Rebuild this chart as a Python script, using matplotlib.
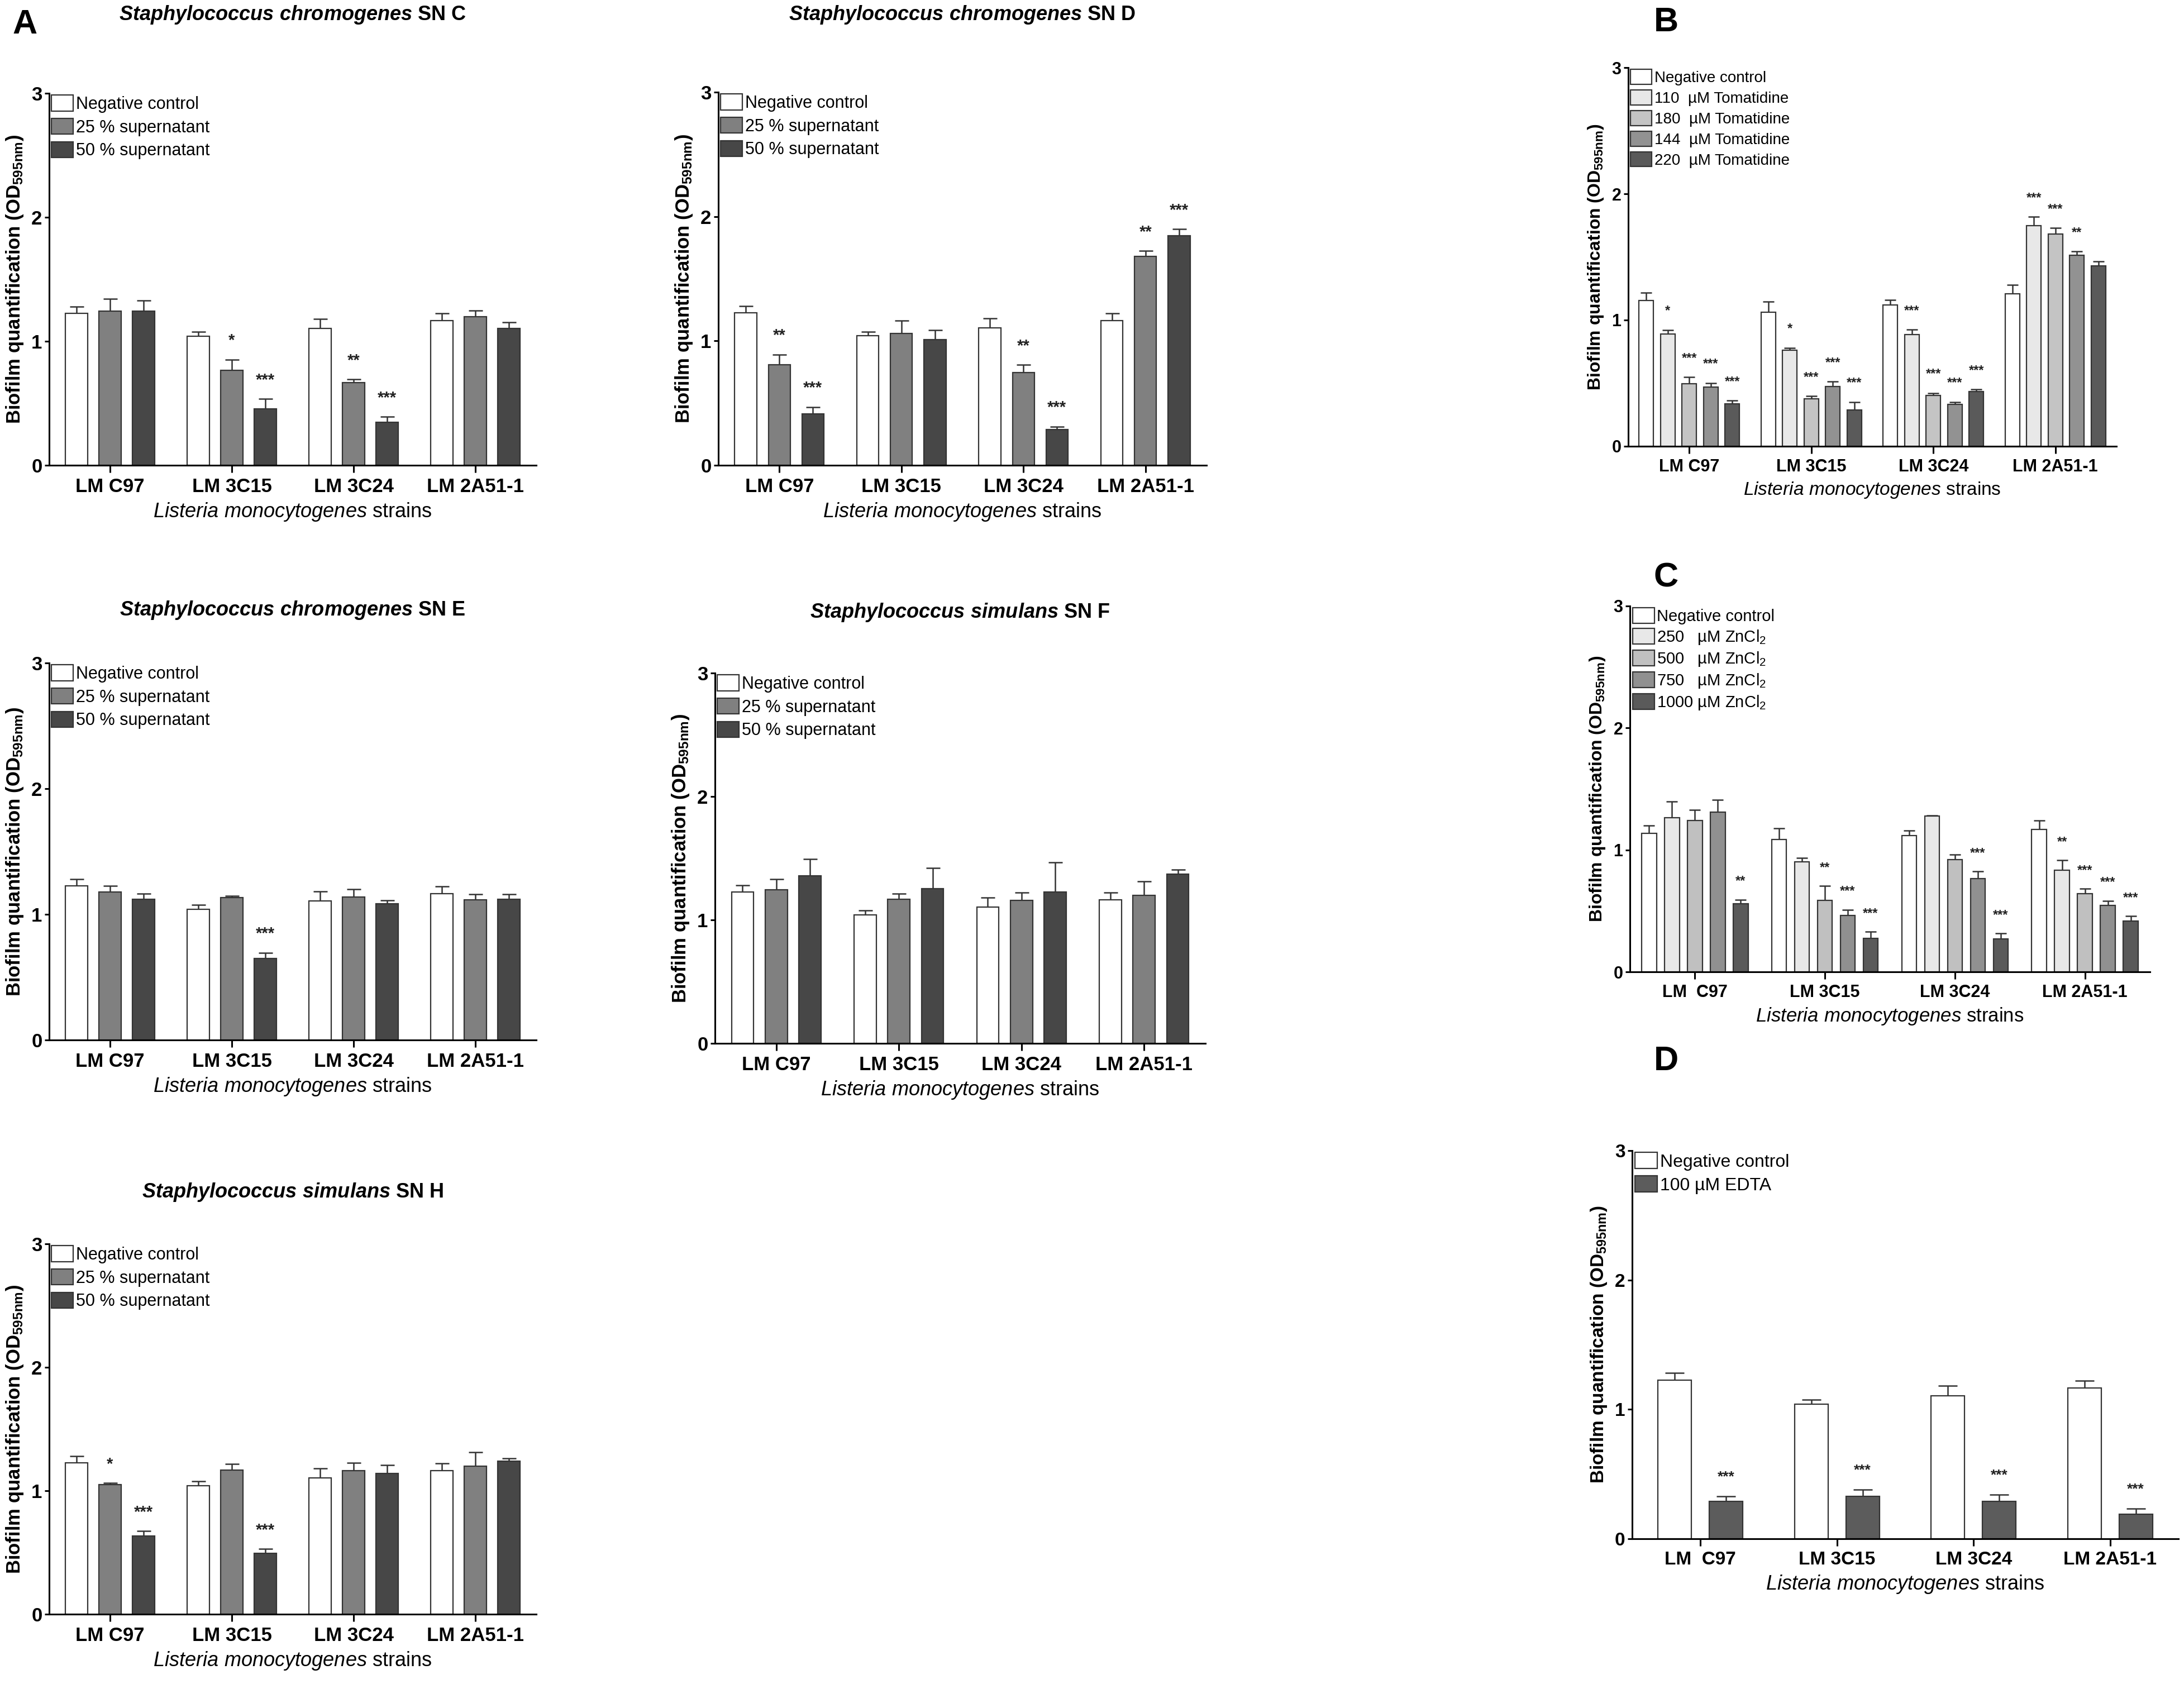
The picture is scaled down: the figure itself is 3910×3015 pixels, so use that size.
import numpy as np
import matplotlib.pyplot as plt

plt.rcParams['font.family'] = ['Liberation Sans', 'DejaVu Sans']
plt.rcParams['mathtext.fontset'] = 'custom'
plt.rcParams['mathtext.rm'] = 'Liberation Sans'
plt.rcParams['mathtext.bf'] = 'Liberation Sans:bold'
plt.rcParams['mathtext.it'] = 'Liberation Sans:italic:bold'
plt.rcParams['mathtext.sf'] = 'Liberation Sans:italic'

W, H = 3910, 3015

strains = ["LM C97", "LM 3C15", "LM 3C24", "LM 2A51-1"]
strains_sp = ["LM  C97", "LM 3C15", "LM 3C24", "LM 2A51-1"]

# negative control (same wells in all supernatant panels and EDTA)
neg_ctrl = [1.225, 1.04, 1.105, 1.165]
neg_ctrl_err = [0.056, 0.035, 0.077, 0.058]

sn_labels = ["Negative control", "25 % supernatant", "50 % supernatant"]
sn_colors = ["#ffffff", "#808080", "#474747"]

# SN C
snc_25 = [1.243, 0.768, 0.667, 1.198]
snc_25_err = [0.10, 0.085, 0.025, 0.05]
snc_50 = [1.243, 0.455, 0.345, 1.102]
snc_50_err = [0.085, 0.08, 0.045, 0.05]
snc_25_stars = ["", "*", "**", ""]
snc_50_stars = ["", "***", "***", ""]

# SN D
snd_25 = [0.807, 1.06, 0.745, 1.681]
snd_25_err = [0.084, 0.104, 0.062, 0.042]
snd_50 = [0.413, 1.009, 0.287, 1.844]
snd_50_err = [0.056, 0.076, 0.025, 0.056]
snd_25_stars = ["**", "", "**", "**"]
snd_50_stars = ["***", "", "***", "***"]

# SN E
sne_25 = [1.18, 1.133, 1.139, 1.114]
sne_25_err = [0.047, 0.014, 0.06, 0.044]
sne_50 = [1.122, 0.651, 1.086, 1.119]
sne_50_err = [0.044, 0.044, 0.025, 0.042]
sne_25_stars = ["", "", "", ""]
sne_50_stars = ["", "***", "", ""]

# SN F
snf_25 = [1.245, 1.168, 1.159, 1.198]
snf_25_err = [0.087, 0.044, 0.064, 0.115]
snf_50 = [1.357, 1.253, 1.228, 1.371]
snf_50_err = [0.135, 0.167, 0.236, 0.036]
snf_25_stars = ["", "", "", ""]
snf_50_stars = ["", "", "", ""]

# SN H
snh_25 = [1.048, 1.169, 1.163, 1.201]
snh_25_err = [0.016, 0.046, 0.062, 0.111]
snh_50 = [0.633, 0.493, 1.142, 1.239]
snh_50_err = [0.043, 0.038, 0.065, 0.024]
snh_25_stars = ["*", "", "", ""]
snh_50_stars = ["***", "***", "", ""]

# B: tomatidine
tom_labels = ["Negative control", "110  \u00b5M Tomatidine", "180  \u00b5M Tomatidine",
              "144  \u00b5M Tomatidine", "220  \u00b5M Tomatidine"]
tom_colors = ["#ffffff", "#e8e8e8", "#c4c4c4", "#929292", "#5a5a5a"]
tom_neg = [1.155, 1.06, 1.119, 1.207]
tom_neg_err = [0.061, 0.086, 0.041, 0.072]
tom_110 = [0.888, 0.76, 0.883, 1.749]
tom_110_err = [0.033, 0.02, 0.041, 0.069]
tom_180 = [0.497, 0.375, 0.402, 1.682]
tom_180_err = [0.05, 0.022, 0.02, 0.047]
tom_144 = [0.469, 0.472, 0.333, 1.513]
tom_144_err = [0.033, 0.041, 0.017, 0.03]
tom_220 = [0.336, 0.286, 0.433, 1.427]
tom_220_err = [0.025, 0.064, 0.017, 0.038]
tom_110_stars = ["*", "*", "***", "***"]
tom_180_stars = ["***", "***", "***", "***"]
tom_144_stars = ["***", "***", "***", "**"]
tom_220_stars = ["***", "***", "***", ""]

# C: ZnCl2
zn_labels = ["Negative control", "250   \u00b5M ZnCl$_2$", "500   \u00b5M ZnCl$_2$",
             "750   \u00b5M ZnCl$_2$", "1000 \u00b5M ZnCl$_2$"]
zn_colors = ["#ffffff", "#e8e8e8", "#c0c0c0", "#909090", "#5a5a5a"]
zn_neg = [1.138, 1.085, 1.116, 1.169]
zn_neg_err = [0.062, 0.092, 0.042, 0.07]
zn_250 = [1.262, 0.903, 1.276, 0.833]
zn_250_err = [0.137, 0.033, 0.005, 0.081]
zn_500 = [1.242, 0.586, 0.92, 0.642]
zn_500_err = [0.087, 0.12, 0.044, 0.039]
zn_750 = [1.312, 0.463, 0.763, 0.547]
zn_750_err = [0.098, 0.047, 0.061, 0.036]
zn_1000 = [0.561, 0.275, 0.269, 0.418]
zn_1000_err = [0.031, 0.053, 0.048, 0.039]
zn_250_stars = ["", "", "", "**"]
zn_500_stars = ["", "**", "", "***"]
zn_750_stars = ["", "***", "***", "***"]
zn_1000_stars = ["**", "***", "***", "***"]

# D: EDTA
edta_labels = ["Negative control", "100 \u00b5M EDTA"]
edta_colors = ["#ffffff", "#5c5c5c"]
edta_100 = [0.29, 0.326, 0.29, 0.188]
edta_100_err = [0.036, 0.053, 0.05, 0.044]
edta_stars = ["***", "***", "***", "***"]

nostar = ["", "", "", ""]

fig = plt.figure(figsize=(W / 100, H / 100), dpi=100)


def panel(px, vals, errs, stars, colors, labels, ticklabels, width, spacing,
          capsize, leg, tick_fs, ylab_fs, xlab_fs, star_fs):
    left, right, top, bottom = px
    ax = fig.add_axes([left / W, 1 - bottom / H, (right - left) / W, (bottom - top) / H])
    x = np.arange(len(ticklabels))
    n = len(vals)
    for i in range(n):
        xi = x + (i - (n - 1) / 2) * spacing
        ax.bar(xi, vals[i], width=width, color=colors[i], edgecolor="#333333",
               linewidth=1.6, label=labels[i], zorder=2)
        ax.errorbar(xi, vals[i], yerr=[np.zeros(len(x)), errs[i]], fmt="none",
                    ecolor="#333333", elinewidth=1.8, capsize=capsize,
                    capthick=1.8, zorder=1)
        for xx, v, e, s in zip(xi, vals[i], errs[i], stars[i]):
            if s:
                ax.text(xx, v + e + 0.15, s, ha="center", va="center",
                        fontsize=star_fs, fontweight="bold", color="#222222")
    ax.set_xlim(-0.5, len(x) - 0.5)
    ax.set_ylim(0, 3)
    ax.set_yticks([0, 1, 2, 3])
    ax.set_xticks(x)
    ax.set_xticklabels(ticklabels, fontsize=tick_fs, fontweight="bold")
    for t in ax.get_yticklabels():
        t.set_fontsize(tick_fs)
        t.set_fontweight("bold")
    ax.spines["top"].set_visible(False)
    ax.spines["right"].set_visible(False)
    ax.spines["left"].set_linewidth(2.2)
    ax.spines["bottom"].set_linewidth(2.2)
    ax.tick_params(axis="x", length=9, width=2.2, pad=7)
    ax.tick_params(axis="y", length=6, width=2.2, pad=3)
    ax.set_ylabel("Biofilm quantification (OD$_{\\mathbf{595nm}}$)",
                  fontsize=ylab_fs, fontweight="bold", labelpad=8)
    ax.set_xlabel("$\\mathsf{Listeria\\ monocytogenes}$ strains",
                  fontsize=xlab_fs, labelpad=6)
    fs, hl, hh, ls = leg
    ax.legend(loc="upper left", bbox_to_anchor=(0.005, 0.995), frameon=False,
              fontsize=fs, handlelength=hl, handleheight=hh,
              handletextpad=0.15, labelspacing=ls, borderaxespad=0,
              borderpad=0)
    return ax


def title(cx, cy, species, sn):
    fig.text(cx / W, 1 - cy / H,
             "$\\mathit{Staphylococcus\\ " + species + "}$ " + sn,
             ha="center", va="center", fontsize=26, fontweight="bold")


sn_kw = dict(colors=sn_colors, labels=sn_labels, ticklabels=strains,
             width=0.18, spacing=0.275, capsize=9, leg=(22, 1.27, 1.05, 0.33),
             tick_fs=25, ylab_fs=25, xlab_fs=26, star_fs=21)

panel((88, 960, 167, 833), [neg_ctrl, snc_25, snc_50],
      [neg_ctrl_err, snc_25_err, snc_50_err], [nostar, snc_25_stars, snc_50_stars], **sn_kw)
title(524, 27, "chromogenes", "SN C")

panel((1286, 2160, 165, 833), [neg_ctrl, snd_25, snd_50],
      [neg_ctrl_err, snd_25_err, snd_50_err], [nostar, snd_25_stars, snd_50_stars], **sn_kw)
title(1723, 27, "chromogenes", "SN D")

panel((88, 960, 1187, 1862), [neg_ctrl, sne_25, sne_50],
      [neg_ctrl_err, sne_25_err, sne_50_err], [nostar, sne_25_stars, sne_50_stars], **sn_kw)
title(524, 1093, "chromogenes", "SN E")

panel((1280, 2158, 1205, 1868), [neg_ctrl, snf_25, snf_50],
      [neg_ctrl_err, snf_25_err, snf_50_err], [nostar, snf_25_stars, snf_50_stars], **sn_kw)
title(1719, 1096, "simulans", "SN F")

panel((88, 960, 2227, 2890), [neg_ctrl, snh_25, snh_50],
      [neg_ctrl_err, snh_25_err, snh_50_err], [nostar, snh_25_stars, snh_50_stars], **sn_kw)
title(524, 2134, "simulans", "SN H")

panel((2915, 3789, 121, 799), [tom_neg, tom_110, tom_180, tom_144, tom_220],
      [tom_neg_err, tom_110_err, tom_180_err, tom_144_err, tom_220_err],
      [nostar, tom_110_stars, tom_180_stars, tom_144_stars, tom_220_stars],
      tom_colors, tom_labels, strains, width=0.118, spacing=0.176, capsize=7,
      leg=(20, 1.37, 1.08, 0.3), tick_fs=22, ylab_fs=23, xlab_fs=24, star_fs=17)

panel((2918, 3849, 1085, 1740), [zn_neg, zn_250, zn_500, zn_750, zn_1000],
      [zn_neg_err, zn_250_err, zn_500_err, zn_750_err, zn_1000_err],
      [nostar, zn_250_stars, zn_500_stars, zn_750_stars, zn_1000_stars],
      zn_colors, zn_labels, strains_sp, width=0.114, spacing=0.176, capsize=7,
      leg=(21, 1.34, 1.07, 0.24), tick_fs=22, ylab_fs=23, xlab_fs=25, star_fs=17)

panel((2922, 3900, 2060, 2755), [neg_ctrl, edta_100], [neg_ctrl_err, edta_100_err],
      [nostar, edta_stars], edta_colors, edta_labels, strains_sp,
      width=0.246, spacing=0.377, capsize=12, leg=(23, 1.25, 1.0, 0.3),
      tick_fs=24, ylab_fs=24, xlab_fs=26, star_fs=19)

for letter, (lx, ly) in zip("ABCD", [(45, 45), (2983, 40), (2983, 1035), (2983, 1900)]):
    fig.text(lx / W, 1 - ly / H, letter, ha="center", va="center",
             fontsize=44, fontweight="bold")

fig.savefig("out.png", dpi=100, facecolor="white")
